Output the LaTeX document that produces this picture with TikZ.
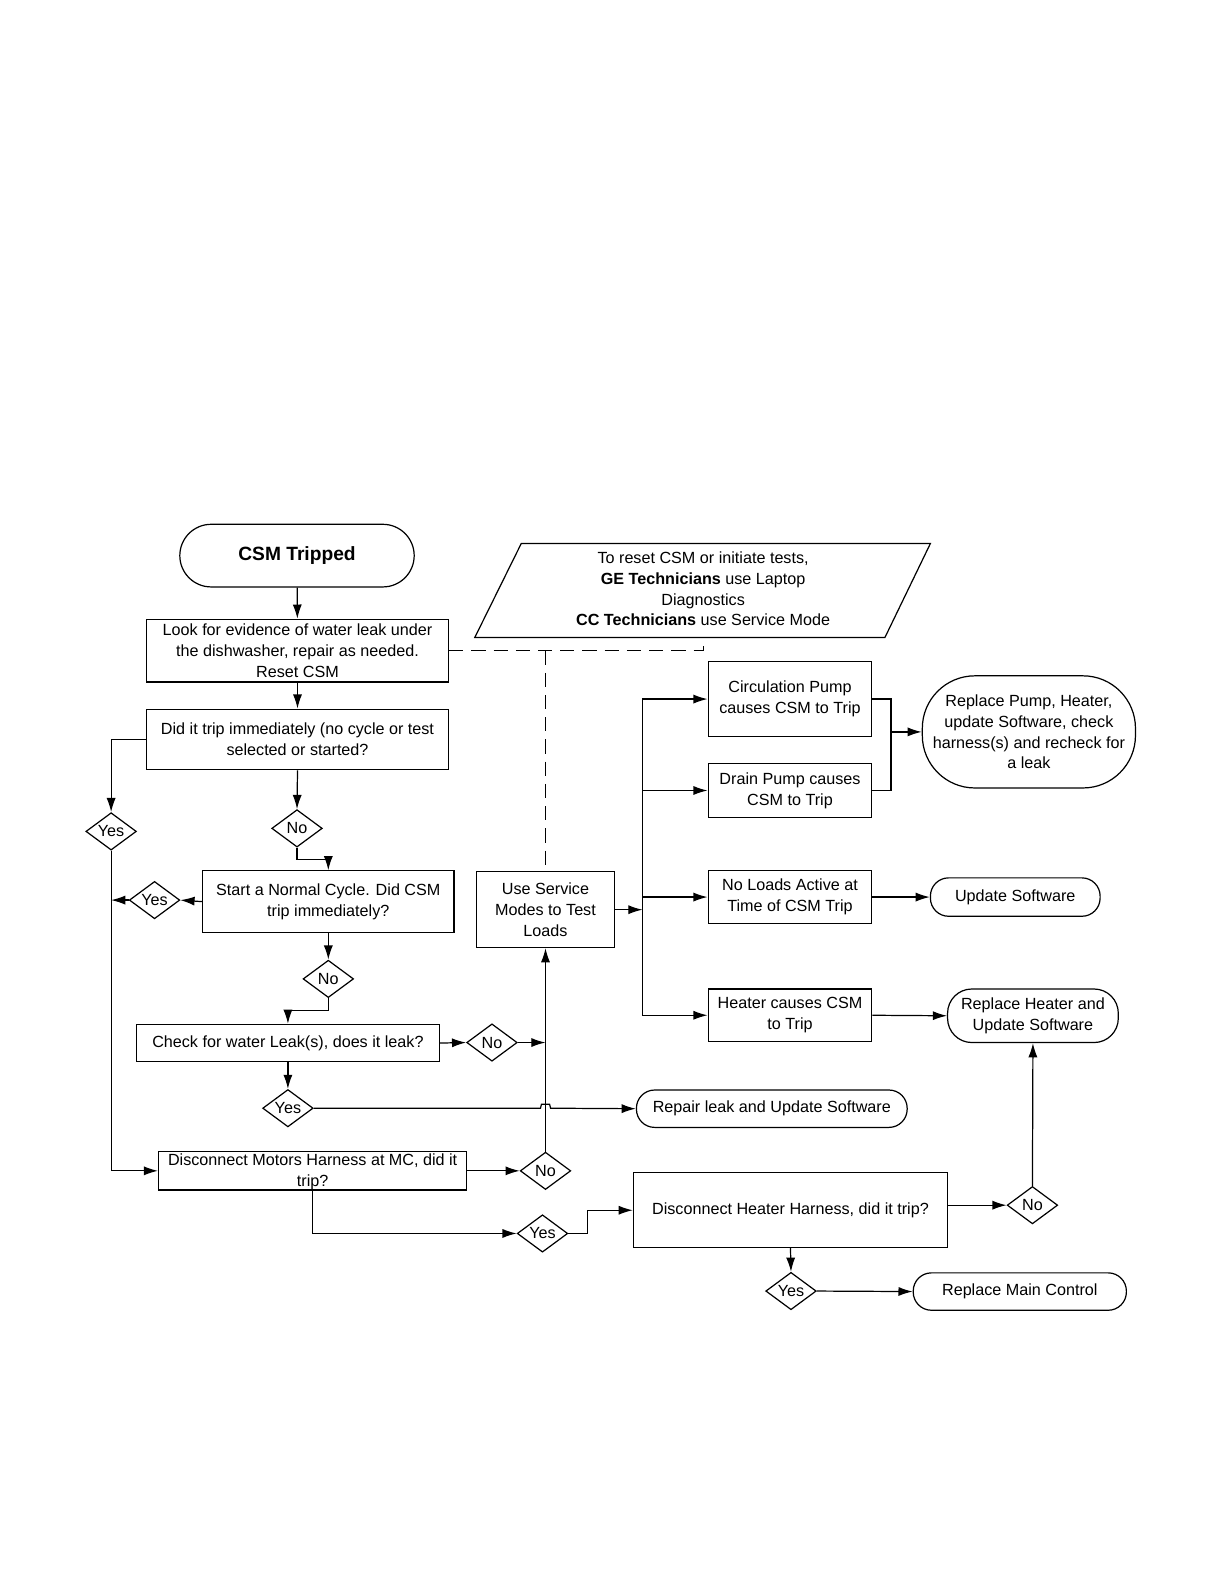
\documentclass[tikz,border=0pt]{standalone}
\usepackage{fontspec}
\setmainfont{Liberation Sans}
\usetikzlibrary{arrows.meta,calc,shapes.geometric}
\begin{document}
\begin{tikzpicture}[x=1pt,y=-1pt,
  every node/.style={font=\fontsize{16}{20.5}\selectfont},
  box/.style={draw,rectangle,line width=1.2pt,inner sep=0pt,align=center},
  term/.style={draw,rectangle,line width=1.2pt,inner sep=0pt,align=center,rounded corners=18pt},
  dec/.style={draw,diamond,line width=1.2pt,inner sep=0pt,minimum width=50pt,minimum height=37pt},
  arr/.style={line width=1.2pt,-{Latex[length=14pt,width=9pt]}},
  con/.style={line width=1.2pt},
  dsh/.style={line width=1.2pt,dash pattern=on 14pt off 8pt}]
\fill[white] (0,0) rectangle (1212,1568);
\useasboundingbox (0,0) rectangle (1212,1568);

% nodes
\node[term,rounded corners=31pt,minimum width=232pt,minimum height=62pt,font=\fontsize{19}{23}\selectfont\bfseries] (start) at (294,550) {CSM Tripped};

\draw[line width=1.2pt] (516,538) -- (921,538) -- (876,631) -- (470,631) -- cycle;
\node[align=center,inner sep=0pt] (note) at (696,583) {To reset CSM or initiate tests,\\\textbf{GE Technicians} use Laptop\\Diagnostics\\\textbf{CC Technicians} use Service Mode};
\coordinate (pb) at (696,631);

\node[box,minimum width=299pt,minimum height=62pt] (b1) at (294.5,644) {Look for evidence of water leak under\\the dishwasher, repair as needed.\\Reset CSM};
\node[box,minimum width=299pt,minimum height=60pt] (b2) at (294.5,732) {Did it trip immediately (no cycle or test\\selected or started?};
\node[dec] (y1) at (110,823) {\makebox[0pt]{Yes}};
\node[dec] (n1) at (294,820) {\makebox[0pt]{No}};
\node[box,minimum width=249pt,minimum height=61pt] (b3) at (325,892.5) {Start a Normal Cycle. Did CSM\\trip immediately?};
\node[dec] (y2) at (153,891) {\makebox[0pt]{Yes}};
\node[dec] (n2) at (325,969) {\makebox[0pt]{No}};
\node[box,minimum width=300pt,minimum height=37pt] (b4) at (285,1032.5) {Check for water Leak(s), does it leak?};
\node[dec] (n3) at (487,1032) {\makebox[0pt]{No}};
\node[dec] (y3) at (285,1097) {\makebox[0pt]{Yes}};
\node[box,minimum width=137pt,minimum height=75pt] (b5) at (540,900.5) {Use Service\\Modes to Test\\Loads};
\node[box,minimum width=305pt,minimum height=38pt] (b6) at (309.5,1159) {};
\node[align=center,inner sep=0pt] (b6t) at (309.5,1160) {Disconnect Motors Harness at MC, did it\\trip?};
\node[dec] (n4) at (540,1159) {\makebox[0pt]{No}};
\node[dec] (y4) at (537,1221) {\makebox[0pt]{Yes}};
\node[box,minimum width=311pt,minimum height=74pt] (b7) at (782.5,1198) {Disconnect Heater Harness, did it trip?};
\node[dec] (n5) at (1022,1193) {\makebox[0pt]{No}};
\node[dec] (y5) at (783,1278) {\makebox[0pt]{Yes}};
\node[term,minimum width=211pt,minimum height=37pt] (tmain) at (1009.5,1278.5) {Replace Main Control};
\node[term,minimum width=268pt,minimum height=37pt] (trep) at (764,1097.5) {Repair leak and Update Software};

\node[box,minimum width=162pt,minimum height=74pt] (c1) at (782,692) {Circulation Pump\\causes CSM to Trip};
\node[box,minimum width=162pt,minimum height=53pt] (c2) at (782,782.5) {Drain Pump causes\\CSM to Trip};
\node[box,minimum width=162pt,minimum height=52pt] (c3) at (782,888) {No Loads Active at\\Time of CSM Trip};
\node[box,minimum width=162pt,minimum height=52pt] (c4) at (782,1005) {Heater causes CSM\\to Trip};
\node[term,rounded corners=52pt,minimum width=211pt,minimum height=111pt] (tpump) at (1018.5,724.5) {Replace Pump, Heater,\\update Software, check\\harness(s) and recheck for\\a leak};
\node[term,minimum width=168pt,minimum height=38pt] (tupd) at (1005,888) {Update Software};
\node[term,rounded corners=24pt,minimum width=169pt,minimum height=53pt] (theat) at (1022.5,1005.5) {Replace Heater and\\Update Software};

\coordinate (bus) at (636,900);
\coordinate (jn) at (882,724.5);

% connectors
\draw[arr] (start) -- (b1);
\draw[arr] (b1) -- (b2);
\draw[arr] (b2.west) -| (y1.north);
\draw[arr] (b2.south) -- (n1.north);
\draw[arr] (n1.south) -- ++(0,12) -| (b3.north);
\draw[arr] (b3.west) -- (y2.east);
\draw[arr] (y2.west) -- (y2.west -| y1.south);
\draw[arr] (y1.south) |- (b6.west);
\draw[arr] (b3.south) -- (n2.north);
\draw[arr] (n2.south) -- ++(0,12) -| (b4.north);
\draw[arr] (b4.east) -- (n3.west);
\draw[arr] (n3.east) -- (n3.east -| b5.south);
\draw[arr] (n4.north) -- (b5.south);
\draw[arr] (b4.south) -- (y3.north);
\draw[arr] (y3.east) -- ($(y3.east -| b5.south)+(-5,0)$) -- ++(1,-4) -- ++(8,0) -- ++(1,4) -- (trep.west);
\draw[arr] (b6.east) -- (n4.west);
\draw[arr] (b6.south) |- (y4.west);
\draw[arr] (y4.east) -- ++(19,0) |- (b7.west);
\draw[arr] (b7.east |- n5.west) -- (n5.west);
\draw[arr] (n5.north) -- (theat.south);
\draw[arr] (b7.south) -- (y5.north);
\draw[arr] (y5.east) -- (tmain.west);

\draw[arr] (b5.east) -- (b5.east -| bus);
\draw[con] (c1.west -| bus) -- (c4.west -| bus);
\draw[arr] (c1.west -| bus) -- (c1.west);
\draw[arr] (c2.west -| bus) -- (c2.west);
\draw[arr] (c3.west -| bus) -- (c3.west);
\draw[arr] (c4.west -| bus) -- (c4.west);
\draw[con] (c1.east) -| (jn) |- (c2.east);
\draw[arr] (jn) -- (tpump.west);
\draw[arr] (c3.east) -- (tupd.west);
\draw[arr] (c4.east) -- (theat.west);

\draw[dsh] (b1.east) -- (b1.east -| pb) -- (pb);
\draw[dsh] (b1.east -| b5.north) -- (b5.north);
\end{tikzpicture}
\end{document}
